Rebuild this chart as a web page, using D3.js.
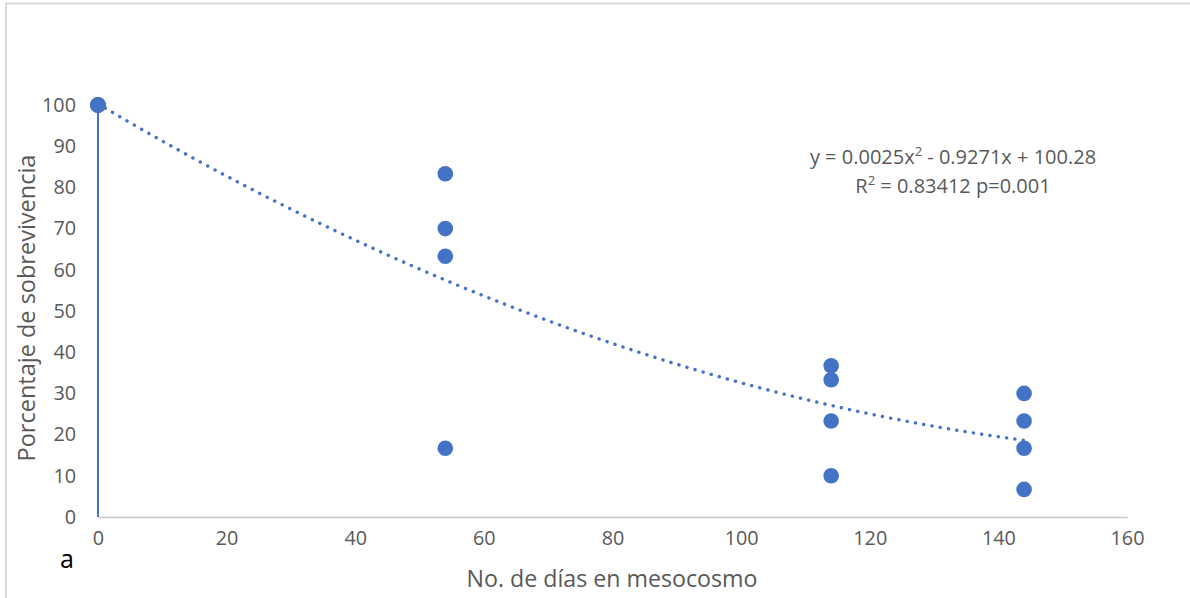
<!DOCTYPE html>
<html>
<head>
<meta charset="utf-8">
<script src="https://cdn.jsdelivr.net/npm/d3@7"></script>
<style>
  html, body { margin: 0; padding: 0; background: #fff; }
  svg { display: block; }
  text { font-family: "Open Sans", sans-serif; }
</style>
</head>
<body>
<svg id="chart" width="1190" height="598"></svg>
<script>
// ---- data ----
const days     = [0, 0, 0, 0, 54, 54, 54, 54, 114, 114, 114, 114, 144, 144, 144, 144];
const survival = [100, 100, 100, 100, 83.3, 70, 63.3, 16.7, 36.7, 33.3, 23.3, 10, 30, 23.3, 16.7, 6.7];
const xTicks = [0, 20, 40, 60, 80, 100, 120, 140, 160];
const yTicks = [0, 10, 20, 30, 40, 50, 60, 70, 80, 90, 100];
const trendCoef = [100.28, -0.9271, 0.0025]; // c0 + c1 x + c2 x^2
const trendRange = [0, 144];
const eqLine1 = ["y = 0.0025x", "2", " - 0.9271x + 100.28"];
const eqLine2 = ["R", "2", " = 0.83412 p=0.001"];
const xTitle = "No. de días en mesocosmo";
const yTitle = "Porcentaje de sobrevivencia";
const panelLabel = "a";

// ---- layout ----
const svg = d3.select("#chart");
const blue = "#4472C4";
const grey = "#595959";
const font = "'Open Sans', sans-serif";

const x = d3.scaleLinear().domain([0, 160]).range([98, 1127]);
const y = d3.scaleLinear().domain([0, 100]).range([517, 105]);

// outer border
svg.append("path")
  .attr("d", "M6,598 V3.5 H1190")
  .attr("fill", "none").attr("stroke", "#d9d9d9").attr("stroke-width", 2);

// x axis
const xAxis = d3.axisBottom(x).tickValues(xTicks).tickSize(0).tickPadding(14).tickFormat(d3.format("d"));
const gx = svg.append("g").attr("transform", `translate(0,${y(0)})`).call(xAxis);
gx.select(".domain").attr("stroke", "#c8c8c8").attr("stroke-width", 1.5);
gx.selectAll("text").attr("fill", grey).style("font-size", "19.8px").style("font-family", font);

// y axis (labels only)
const yAxis = d3.axisLeft(y).tickValues(yTicks).tickSize(0).tickPadding(22).tickFormat(d3.format("d"));
const gy = svg.append("g").attr("transform", `translate(${x(0)},0)`).call(yAxis);
gy.select(".domain").remove();
gy.selectAll("text").attr("fill", grey).style("font-size", "19.8px").style("font-family", font);

// vertical blue line at x=0
svg.append("line")
  .attr("x1", x(0)).attr("x2", x(0))
  .attr("y1", y(0)).attr("y2", y(100))
  .attr("stroke", blue).attr("stroke-width", 2);

// trend line
const poly = v => trendCoef[0] + trendCoef[1] * v + trendCoef[2] * v * v;
const tx = d3.range(trendRange[0], trendRange[1] + 0.001, 1);
const line = d3.line().x(d => x(d)).y(d => y(poly(d)));
svg.append("path")
  .datum(tx)
  .attr("d", line)
  .attr("fill", "none")
  .attr("stroke", blue)
  .attr("stroke-width", 3.4)
  .attr("stroke-linecap", "round")
  .attr("stroke-dasharray", "0.1 8.3");

// points
svg.append("g").selectAll("circle")
  .data(days.map((d, i) => [d, survival[i]]))
  .join("circle")
  .attr("cx", d => x(d[0]))
  .attr("cy", d => y(d[1]))
  .attr("r", 7.8)
  .attr("fill", blue);

// equation
function eqText(parts, yy) {
  const t = svg.append("text")
    .attr("x", 953).attr("y", yy).attr("text-anchor", "middle")
    .attr("fill", grey).style("font-size", "20px");
  t.append("tspan").text(parts[0]);
  t.append("tspan").attr("dy", -8).style("font-size", "13px").text(parts[1]);
  t.append("tspan").attr("dy", 8).text(parts[2]);
}
eqText(eqLine1, 164);
eqText(eqLine2, 193);

// axis titles
svg.append("text")
  .attr("x", 612).attr("y", 587)
  .attr("text-anchor", "middle")
  .attr("fill", grey).style("font-size", "23.2px")
  .text(xTitle);

svg.append("text")
  .attr("transform", "translate(35,308) rotate(-90)")
  .attr("text-anchor", "middle")
  .attr("fill", grey).style("font-size", "23.5px")
  .text(yTitle);

// panel label
svg.append("text")
  .attr("x", 67).attr("y", 568)
  .attr("text-anchor", "middle")
  .attr("fill", "#000").style("font-size", "25px")
  .text(panelLabel);
</script>
</body>
</html>
